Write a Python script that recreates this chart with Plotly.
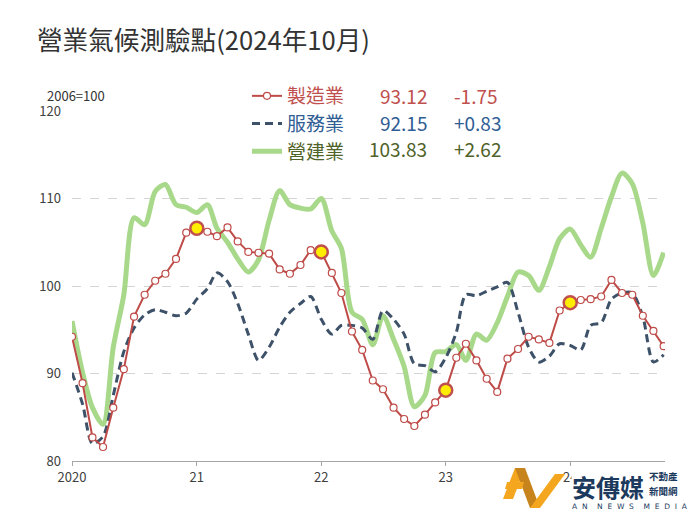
import pandas as pd
import plotly.graph_objects as go

# ---------------- data ----------------
months = pd.date_range("2020-01-01", periods=58, freq="MS")

manufacturing = [94.2, 88.9, 82.7, 81.6, 86.1, 90.5, 96.5, 99.0, 100.6, 101.4, 103.1, 106.1,
                 106.6, 106.2, 105.7, 106.7, 105.1, 103.9, 103.8, 103.7, 101.9, 101.4, 102.4, 104.1,
                 103.9, 101.5, 99.2, 94.8, 92.7, 89.2, 88.2, 86.1, 84.8, 84.0, 85.3, 86.7,
                 88.1, 91.8, 93.4, 91.5, 89.4, 87.9, 91.7, 92.8, 94.2, 93.9, 93.5, 97.2,
                 98.1, 98.4, 98.5, 98.8, 100.7, 99.2, 99.0, 96.6, 94.87, 93.12]

services = [90.1, 86.5, 82.0, 82.8, 87.5, 92.5, 95.2, 96.7, 97.3, 97.0, 96.6, 96.9,
            98.5, 99.7, 101.5, 100.5, 98.0, 94.5, 91.5, 93.0, 95.3, 97.0, 98.0, 98.8,
            96.2, 94.5, 95.5, 95.5, 95.2, 93.9, 97.2, 96.2, 94.5, 91.1, 90.9, 90.2,
            91.8, 94.7, 99.0, 98.9, 99.4, 99.9, 100.4, 97.0, 93.0, 91.3, 92.0, 93.4,
            93.2, 92.7, 95.5, 95.8, 98.5, 99.2, 99.2, 96.5, 91.32, 92.15]

construction = [96.0, 90.1, 86.1, 84.2, 93.0, 99.0, 107.8, 107.0, 110.8, 111.6, 109.3, 109.0,
                108.4, 109.3, 106.6, 105.0, 103.1, 101.6, 103.0, 107.5, 110.9, 109.3, 108.9, 108.8,
                110.0, 106.3, 104.3, 97.0, 96.2, 93.3, 96.6, 93.9, 90.8, 86.2, 87.5, 92.4,
                92.5, 93.3, 91.5, 94.5, 93.8, 95.8, 98.8, 101.6, 101.2, 99.5, 102.2, 105.4,
                106.5, 104.7, 103.3, 106.6, 110.2, 112.9, 111.7, 107.2, 101.21, 103.83]

highlight_idx = [12, 24, 36, 48]  # January points highlighted

series_names = ["製造業", "服務業", "營建業"]
latest_values = ["93.12", "92.15", "103.83"]
changes = ["-1.75", "+0.83", "+2.62"]

tick_dates = ["2020-01-01", "2021-01-01", "2022-01-01", "2023-01-01", "2024-01-01"]
tick_text = ["2020", "21", "22", "23", "24"]
y_ticks = [80, 90, 100, 110, 120]

# ---------------- style ----------------
FONT = "Noto Sans CJK TC, Noto Sans, sans-serif"
RED = "#be4b48"
BLUE = "#3d5169"
GREEN = "#a8d98a"
TXT_RED = "#c0504d"
TXT_BLUE = "#2f5d94"
TXT_GREEN = "#4f6228"

W, H = 696, 522
L, R, T, B = 72, 31, 111, 61
PW, PH = W - L - R, H - T - B


def px_x(px):
    return (px - L) / PW


def px_y(py):
    return (H - B - py) / PH


fig = go.Figure()

fig.add_trace(go.Scatter(
    x=months, y=construction, mode="lines", line=dict(color=GREEN, width=5, shape="spline", smoothing=0.8),
    name=f"<span style='color:{TXT_GREEN}'>{series_names[2]}</span>", legendrank=3))

fig.add_trace(go.Scatter(
    x=months, y=services, mode="lines",
    line=dict(color=BLUE, width=3, dash="8px,5px", shape="spline", smoothing=0.8),
    name=f"<span style='color:{TXT_BLUE}'>{series_names[1]}</span>", legendrank=2))

fig.add_trace(go.Scatter(
    x=months, y=manufacturing, mode="lines+markers",
    line=dict(color=RED, width=2),
    marker=dict(symbol="circle", size=7, color="white", line=dict(color=RED, width=1.2)),
    name=f"<span style='color:{TXT_RED}'>{series_names[0]}</span>", legendrank=1))

fig.add_trace(go.Scatter(
    x=[months[i] for i in highlight_idx], y=[manufacturing[i] for i in highlight_idx],
    mode="markers", showlegend=False, hoverinfo="skip",
    marker=dict(symbol="circle", size=13, color="#ffee00", line=dict(color=TXT_RED, width=2.5))))

annotations = []
row_y = [95.5, 122.5, 148.5]
row_cols = [TXT_RED, TXT_BLUE, TXT_GREEN]
for i in range(3):
    annotations.append(dict(x=px_x(429), y=px_y(row_y[i]), xref="paper", yref="paper",
                            text=latest_values[i], showarrow=False, xanchor="right", yanchor="middle",
                            font=dict(size=19, color=row_cols[i], family=FONT)))
    annotations.append(dict(x=px_x(452), y=px_y(row_y[i]), xref="paper", yref="paper",
                            text=changes[i], showarrow=False, xanchor="left", yanchor="middle",
                            font=dict(size=19, color=row_cols[i], family=FONT)))

annotations.append(dict(x=px_x(46), y=px_y(96), xref="paper", yref="paper", text="2006=100",
                        showarrow=False, xanchor="left", yanchor="middle", borderpad=0,
                        font=dict(size=13, color="#333333", family=FONT)))

# logo text
annotations.append(dict(x=px_x(571), y=px_y(486), xref="paper", yref="paper", text="<b>安傳媒</b>",
                        showarrow=False, xanchor="left", yanchor="middle", bgcolor="white", borderpad=0,
                        font=dict(size=24, color="#1c3a5e", family=FONT)))
annotations.append(dict(x=px_x(648), y=px_y(475.5), xref="paper", yref="paper", text="<b>不動產</b>",
                        showarrow=False, xanchor="left", yanchor="middle", borderpad=0,
                        font=dict(size=9.5, color="#1c3a5e", family=FONT)))
annotations.append(dict(x=px_x(648), y=px_y(490.5), xref="paper", yref="paper", text="<b>新聞網</b>",
                        showarrow=False, xanchor="left", yanchor="middle", borderpad=0,
                        font=dict(size=9.5, color="#1c3a5e", family=FONT)))
annotations.append(dict(x=px_x(571), y=px_y(506), xref="paper", yref="paper",
                        text="A  N    N  E  W  S    M  E  D  I  A",
                        showarrow=False, xanchor="left", yanchor="middle", borderpad=0,
                        font=dict(size=7.5, color="#1c3a5e", family="DejaVu Sans")))


def poly(pts, color):
    path = "M " + " L ".join(f"{px_x(a):.4f},{px_y(b):.4f}" for a, b in pts) + " Z"
    return dict(type="path", xref="paper", yref="paper", path=path,
                fillcolor=color, line=dict(width=0), layer="above")


shapes = [
    poly([(503, 499), (513, 499), (525, 468), (515, 468)], "#f3a61e"),
    poly([(515, 468), (525, 468), (540, 508), (530, 508)], "#c8841c"),
    poly([(507, 482), (524, 482), (522, 489), (505, 489)], "#f3a61e"),
    poly([(530, 508), (540, 508), (565, 474), (555, 474)], "#f3a61e"),
]

fig.update_layout(
    width=W, height=H,
    margin=dict(l=L, r=R, t=T, b=B, pad=0),
    paper_bgcolor="white", plot_bgcolor="white",
    font=dict(family=FONT, color="#333333"),
    title=dict(text="營業氣候測驗點(2024年10月)", x=37 / W, xanchor="left", xref="container",
               y=1 - 41 / H, yanchor="middle", yref="container",
               font=dict(size=25.6, color="#333333", family=FONT)),
    showlegend=True,
    legend=dict(x=px_x(247), y=px_y(77), xanchor="left", yanchor="top", xref="paper", yref="paper",
                bgcolor="rgba(0,0,0,0)", font=dict(size=19, family=FONT), traceorder="normal",
                itemwidth=30),
    xaxis=dict(range=["2020-01-01", "2024-10-05"], tickvals=tick_dates, ticktext=tick_text,
               showgrid=False, zeroline=False, showline=True, linecolor="#a6a6a6", linewidth=1,
               ticks="outside", ticklen=4, tickcolor="#a6a6a6",
               tickfont=dict(size=13, color="#404040", family=FONT)),
    yaxis=dict(range=[80, 120], tickvals=y_ticks, showgrid=True, gridcolor="#d4d4d4",
               griddash="dash", gridwidth=1, zeroline=False, showline=False, ticks="",
               ticklabelstandoff=10,
               tickfont=dict(size=13, color="#404040", family=FONT)),
    annotations=annotations,
    shapes=shapes,
)

fig.write_html("out.html")
